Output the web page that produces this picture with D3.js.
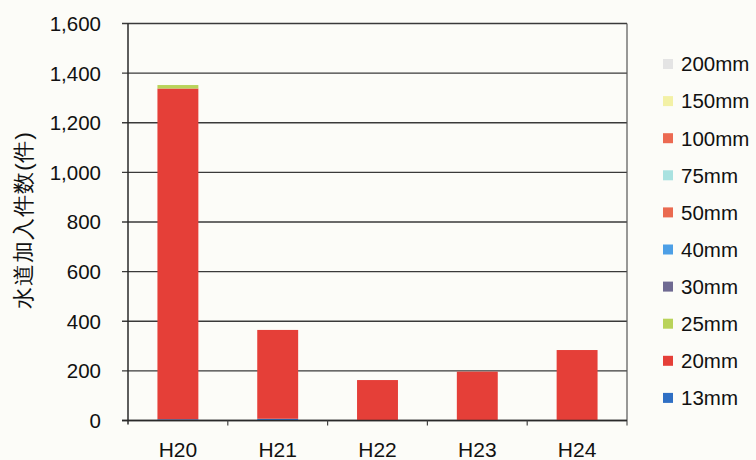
<!DOCTYPE html>
<html>
<head>
<meta charset="utf-8">
<script src="https://cdn.jsdelivr.net/npm/d3@7/dist/d3.min.js"></script>
<style>
  html, body { margin: 0; padding: 0; background: #fcfcf8; }
  svg { display: block; }
  text { font-family: "Liberation Sans", Arial, sans-serif; fill: #111; }
</style>
</head>
<body>
<svg id="chart" width="756" height="460"></svg>
<script>
// Fiscal years (Heisei)
const years = ["H20", "H21", "H22", "H23", "H24"];

// Meter sizes, bottom of the stack first
const sizes = ["13mm", "20mm", "25mm", "30mm", "40mm", "50mm", "75mm", "100mm", "150mm", "200mm"];
const sizeColors = ["#2f6fc4", "#e53f38", "#b9d35a", "#6f6a92", "#4d9fe6", "#ea6a50", "#a9e2e0", "#ec6a52", "#f3f1a6", "#e4e4e4"];

// New water-supply connections per size and year
const v13mm  = [5, 7, 0, 0, 0];
const v20mm  = [1333, 358, 163, 197, 284];
const v25mm  = [14, 0, 0, 0, 0];
const v30mm  = [0, 0, 0, 0, 0];
const v40mm  = [0, 0, 0, 0, 0];
const v50mm  = [0, 0, 0, 0, 0];
const v75mm  = [0, 0, 0, 0, 0];
const v100mm = [0, 0, 0, 0, 0];
const v150mm = [0, 0, 0, 0, 0];
const v200mm = [0, 0, 0, 0, 0];

const yTicks = [0, 200, 400, 600, 800, 1000, 1200, 1400, 1600];
const yTitle = "水道加入件数(件)";

const seriesValues = [v13mm, v20mm, v25mm, v30mm, v40mm, v50mm, v75mm, v100mm, v150mm, v200mm];
const table = years.map((y, i) => {
  const row = { year: y };
  sizes.forEach((s, k) => { row[s] = seriesValues[k][i]; });
  return row;
});

const svg = d3.select("#chart");
const plot = { left: 128, right: 627, top: 23.5, bottom: 420.5 };

const x = d3.scaleBand().domain(years).range([plot.left, plot.right]).padding(0);
const y = d3.scaleLinear().domain([0, 1600]).range([plot.bottom, plot.top]);
const barW = x.bandwidth() * 0.41;

// Horizontal gridlines with left tick stubs
svg.append("g")
  .selectAll("line")
  .data(yTicks)
  .join("line")
  .attr("x1", plot.left - 6)
  .attr("x2", plot.right)
  .attr("y1", d => y(d))
  .attr("y2", d => y(d))
  .attr("stroke", "#3a3a3a")
  .attr("stroke-width", 1.4);

// Y tick labels
svg.append("g")
  .selectAll("text")
  .data(yTicks)
  .join("text")
  .attr("x", 101)
  .attr("y", d => y(d))
  .attr("dy", "0.36em")
  .attr("text-anchor", "end")
  .attr("font-size", 20.5)
  .text(d => d3.format(",")(d));

// Stacked bars
const stack = d3.stack().keys(sizes)(table);
svg.append("g")
  .selectAll("g")
  .data(stack)
  .join("g")
  .attr("fill", (d, i) => sizeColors[i])
  .selectAll("rect")
  .data(d => d)
  .join("rect")
  .attr("x", d => x(d.data.year) + (x.bandwidth() - barW) / 2)
  .attr("y", d => y(d[1]))
  .attr("width", barW)
  .attr("height", d => Math.max(0, y(d[0]) - y(d[1])));

// Axis frame
svg.append("line")
  .attr("x1", plot.left).attr("x2", plot.left)
  .attr("y1", plot.top).attr("y2", plot.bottom + 4)
  .attr("stroke", "#2a2a2a").attr("stroke-width", 1.5);
svg.append("line")
  .attr("x1", plot.right).attr("x2", plot.right)
  .attr("y1", plot.top).attr("y2", plot.bottom + 5)
  .attr("stroke", "#555").attr("stroke-width", 1.2);
svg.append("line")
  .attr("x1", plot.left - 6).attr("x2", plot.right)
  .attr("y1", plot.bottom).attr("y2", plot.bottom)
  .attr("stroke", "#2a2a2a").attr("stroke-width", 1.5);

// Category boundary ticks on the x axis
svg.append("g")
  .selectAll("line")
  .data(years.slice(1))
  .join("line")
  .attr("x1", d => x(d)).attr("x2", d => x(d))
  .attr("y1", plot.bottom).attr("y2", plot.bottom + 5)
  .attr("stroke", "#444").attr("stroke-width", 1.2);

// X labels
svg.append("g")
  .selectAll("text")
  .data(years)
  .join("text")
  .attr("x", d => x(d) + x.bandwidth() / 2)
  .attr("y", 457)
  .attr("text-anchor", "middle")
  .attr("font-size", 21)
  .text(d => d);

// Y axis title
svg.append("text")
  .attr("transform", "translate(31,220) rotate(-90)")
  .attr("text-anchor", "middle")
  .attr("font-family", "'Noto Sans CJK JP', sans-serif")
  .attr("font-size", 22)
  .attr("letter-spacing", 1)
  .text(yTitle);

// Legend, largest size on top
const legendSizes = sizes.slice().reverse();
const legendColors = sizeColors.slice().reverse();
const legend = svg.append("g")
  .selectAll("g")
  .data(legendSizes)
  .join("g")
  .attr("transform", (d, i) => `translate(663, ${64 + i * 37.1})`);
legend.append("rect")
  .attr("x", 0).attr("y", -5)
  .attr("width", 10).attr("height", 10)
  .attr("fill", (d, i) => legendColors[i]);
legend.append("text")
  .attr("x", 18)
  .attr("y", 0)
  .attr("dy", "0.36em")
  .attr("font-size", 20.5)
  .text(d => d);
</script>
</body>
</html>
